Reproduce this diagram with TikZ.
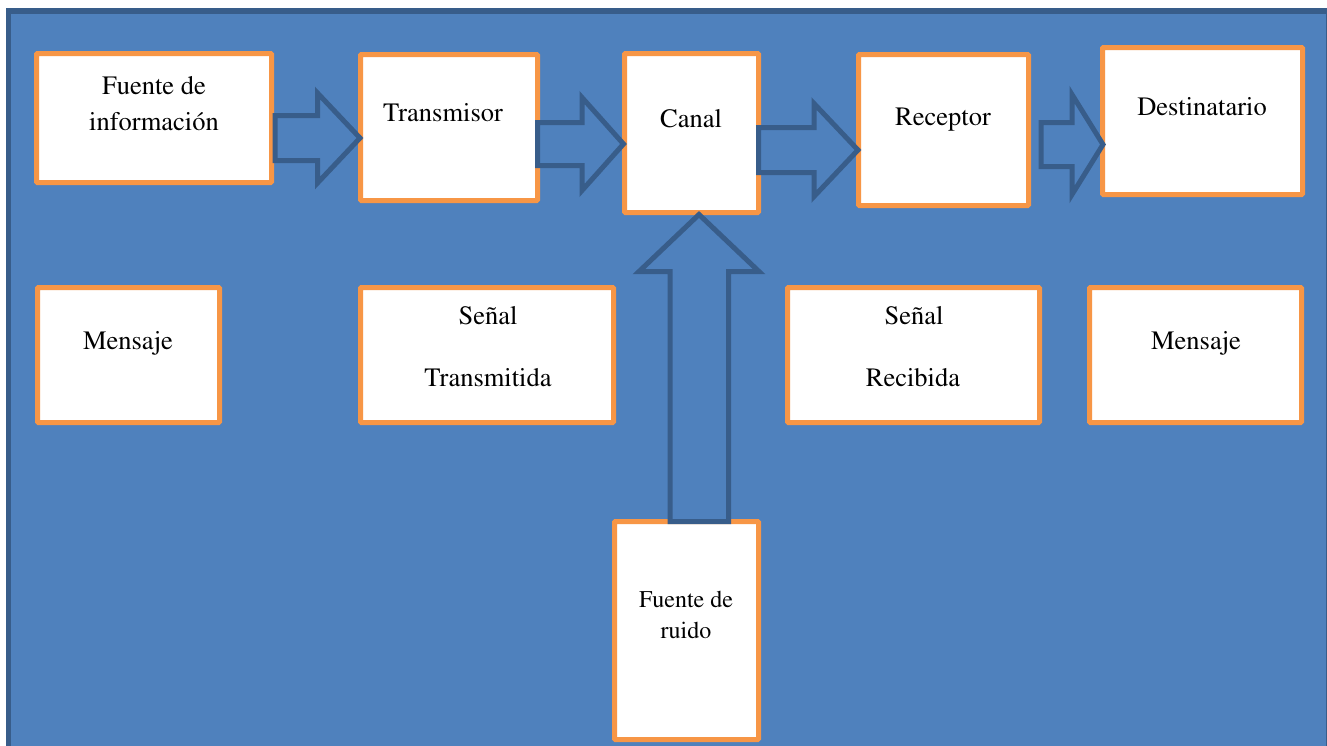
\documentclass[tikz,border=0pt]{standalone}
\usepackage[T1]{fontenc}
\renewcommand{\rmdefault}{ptm}
\renewcommand{\familydefault}{\rmdefault}
\definecolor{bgblue}{HTML}{4F81BD}
\definecolor{edgeblue}{HTML}{385D8A}
\definecolor{boxorange}{HTML}{F79646}
\tikzset{
  box/.style={draw=boxorange, fill=white, line width=5pt, rounded corners=1pt, inner sep=0pt, outer sep=0pt},
  txt/.style={inner sep=0pt, anchor=base, font=\rmfamily\fontsize{26.5}{32}\selectfont},
  stxt/.style={txt, font=\rmfamily\fontsize{24}{29}\selectfont},
  blockarrow/.style={draw=edgeblue, fill=bgblue, line width=5pt, line join=miter},
}
\begin{document}
\begin{tikzpicture}[x=1pt,y=-1pt]
\useasboundingbox (0,0) rectangle (1327,745);
\draw[fill=bgblue, draw=edgeblue, line width=5.5pt] (8.5,11) rectangle (1329,800);

% boxes
\node[box, minimum width=235pt, minimum height=129pt] (fuente) at (154,118) {};
\node[box, minimum width=177pt, minimum height=146pt] (tx) at (449,127.5) {};
\node[box, minimum width=134pt, minimum height=159pt] (canal) at (691.5,133) {};
\node[box, minimum width=170pt, minimum height=151pt] (rx) at (943.5,130) {};
\node[box, minimum width=200pt, minimum height=147pt] (dest) at (1202.5,121) {};
\node[box, minimum width=182pt, minimum height=135pt] (msg1) at (128.5,355) {};
\node[box, minimum width=253pt, minimum height=135pt] (sigt) at (487,355) {};
\node[box, minimum width=252pt, minimum height=135pt] (sigr) at (913.5,355) {};
\node[box, minimum width=212pt, minimum height=135pt] (msg2) at (1195.5,355) {};
\node[box, minimum width=144pt, minimum height=218pt] (noise) at (686.5,630.5) {};

% block arrows
\draw[blockarrow] (275,115.5) -- (317.5,115.5) -- (317.5,93) -- (360,138) -- (317.5,183) -- (317.5,160.5) -- (275,160.5) -- cycle;
\draw[blockarrow] (537.5,122.5) -- (582,122.5) -- (582,97.5) -- (623.5,144) -- (582,190.5) -- (582,165.5) -- (537.5,165.5) -- cycle;
\draw[blockarrow] (758.5,127.5) -- (814,127.5) -- (814,103.5) -- (858,150) -- (814,196.5) -- (814,172.5) -- (758.5,172.5) -- cycle;
\draw[blockarrow] (1041,122.5) -- (1072,122.5) -- (1072,94.5) -- (1103,144.5) -- (1072,194.5) -- (1072,166.5) -- (1041,166.5) -- cycle;
\draw[blockarrow] (670,521.5) -- (670,271.5) -- (639,271.5) -- (699,214.5) -- (759,271.5) -- (728.5,271.5) -- (728.5,521.5) -- cycle;

% texts
\node[txt] (t1a) at (154,94) {Fuente de};
\node[txt] (t1b) at (154,130) {informaci\'on};
\node[txt] (t2) at (443,121) {Transmisor};
\node[txt] (t3) at (691,127) {Canal};
\node[txt] (t4) at (943,125) {Receptor};
\node[txt] (t5) at (1202,115) {Destinatario};
\node[txt] (t6) at (128,349) {Mensaje};
\node[txt] (t7a) at (488,324) {Se\~nal};
\node[txt] (t7b) at (488,386) {Transmitida};
\node[txt] (t8a) at (914,324) {Se\~nal};
\node[txt] (t8b) at (913,386) {Recibida};
\node[txt] (t9) at (1196,349) {Mensaje};
\node[stxt] (t10a) at (686,607) {Fuente de};
\node[stxt] (t10b) at (686,638) {ruido};
\end{tikzpicture}
\end{document}
